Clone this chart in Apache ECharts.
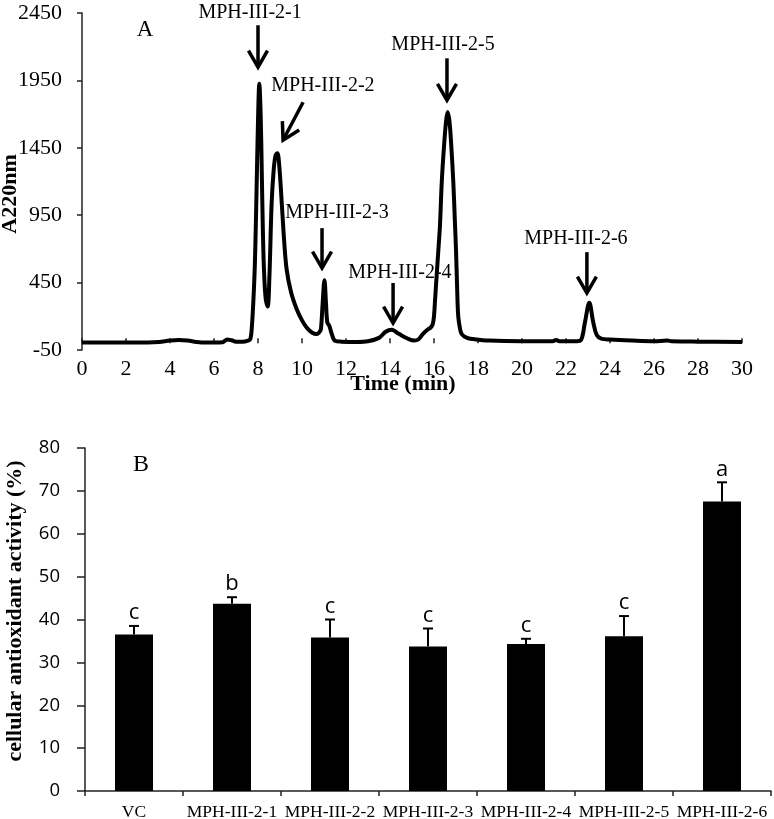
<!DOCTYPE html>
<html><head><meta charset="utf-8">
<script src="https://cdn.jsdelivr.net/npm/echarts@6/dist/echarts.min.js"></script>
<style>html,body{margin:0;padding:0;background:#fff}#c{width:774px;height:819px}</style>
</head><body><div id="c"></div>
<script>
// ---- Panel A: chromatogram ----
const timeMin = [0,1,2,3,3.5,4.0,4.4,4.8,5.2,5.6,6.0,6.4,6.6,6.8,7.0,7.3,7.55,7.65,7.72,7.8,7.86,7.93,8.0,8.06,8.12,8.17,8.22,8.27,8.35,8.44,8.52,8.62,8.72,8.8,8.88,8.96,9.08,9.18,9.3,9.5,9.76,10.0,10.21,10.45,10.67,10.8,10.86,10.94,11.02,11.09,11.15,11.24,11.35,11.5,11.8,12.5,13.0,13.5,13.8,14.08,14.4,14.8,15.1,15.3,15.5,15.7,15.85,15.94,16.0,16.05,16.12,16.2,16.27,16.35,16.45,16.55,16.62,16.7,16.78,16.88,16.95,17.0,17.05,17.1,17.18,17.26,17.5,17.8,18.5,20,21.4,21.55,21.7,22.5,22.7,22.86,23.06,23.24,23.4,23.6,24,25,26,26.6,26.8,28,30];
const absorbance = [5,5,5,6,10,20,24,20,10,5,5,8,28,22,12,12,20,30,120,350,600,1100,1650,1925,1700,1285,850,550,330,272,500,1040,1300,1395,1410,1330,1040,780,550,380,252,170,117,80,68,85,105,300,468,300,154,130,70,19,12,10,15,40,85,100,70,35,20,30,70,100,117,140,200,326,500,695,870,1187,1450,1650,1715,1650,1480,1187,900,695,420,203,110,68,40,31,20,15,15,25,15,15,30,154,300,154,60,35,28,20,15,20,15,12,10];
const yTicksA = [-50,450,950,1450,1950,2450];
const peakNames = ['MPH-III-2-1','MPH-III-2-2','MPH-III-2-3','MPH-III-2-4','MPH-III-2-5','MPH-III-2-6'];
const nameTime  = [7.64,10.95,11.59,14.45,16.41,22.45];
const nameValue = [2455,1907,965,521,2211,773];
const arrowFromTime  = [8.0,10.05,10.91,14.14,16.59,22.95];
const arrowFromValue = [2359,1788,854,447,2114,676];
const arrowToTime    = [8.0,9.14,10.91,14.14,16.59,22.95];
const arrowToValue   = [2048,1507,558,150,1803,372];

// ---- Panel B: cellular antioxidant activity ----
const categories = ['VC','MPH-III-2-1','MPH-III-2-2','MPH-III-2-3','MPH-III-2-4','MPH-III-2-5','MPH-III-2-6'];
const activity    = [36.5,43.7,35.8,33.7,34.3,36.1,67.5];
const activityErr = [2.0,1.5,4.2,4.2,1.2,4.7,4.5];
const sigLetters  = ['c','b','c','c','c','c','a'];

const serif = '"Liberation Serif","Times New Roman",serif';
const sans = '"Open Sans","Noto Sans",sans-serif';
const axisCol = '#222';

const chart = echarts.init(document.getElementById('c'), null, {renderer:'canvas'});

const lineData = timeMin.map((t,i)=>[t, absorbance[i]]);
const annData = peakNames.map((n,i)=>[nameTime[i], nameValue[i], arrowFromTime[i], arrowFromValue[i], arrowToTime[i], arrowToValue[i], i]);
const errData = categories.map((c,i)=>[i, activity[i], activityErr[i]]);

function renderAnn(params, api){
  const i = api.value(6);
  const p = api.coord([api.value(0), api.value(1)]);
  const a = api.coord([api.value(2), api.value(3)]);
  const b = api.coord([api.value(4), api.value(5)]);
  const dx = b[0]-a[0], dy = b[1]-a[1];
  const len = Math.sqrt(dx*dx+dy*dy);
  const ux = dx/len, uy = dy/len;
  const L = 19, ang = 30*Math.PI/180;
  const c1 = [b[0] - L*(ux*Math.cos(ang) - uy*Math.sin(ang)), b[1] - L*(uy*Math.cos(ang) + ux*Math.sin(ang))];
  const c2 = [b[0] - L*(ux*Math.cos(ang) + uy*Math.sin(ang)), b[1] - L*(uy*Math.cos(ang) - ux*Math.sin(ang))];
  return {type:'group', children:[
    {type:'text', style:{text:peakNames[i], x:p[0], y:p[1], align:'center', verticalAlign:'middle', fontSize:20, fontFamily:serif, fill:'#000'}},
    {type:'line', shape:{x1:a[0],y1:a[1],x2:b[0]-ux*1.5,y2:b[1]-uy*1.5}, style:{stroke:'#000', lineWidth:3.5}},
    {type:'polyline', shape:{points:[c1,b,c2]}, style:{stroke:'#000', lineWidth:3.5, fill:null, lineJoin:'miter'}}
  ]};
}

function renderErr(params, api){
  const i = api.value(0), v = api.value(1), e = api.value(2);
  const b = api.coord([i, v]);
  const t = api.coord([i, v+e]);
  return {type:'group', children:[
    {type:'line', shape:{x1:b[0],y1:b[1],x2:t[0],y2:t[1]}, style:{stroke:'#000', lineWidth:2}},
    {type:'line', shape:{x1:t[0]-5,y1:t[1],x2:t[0]+5,y2:t[1]}, style:{stroke:'#000', lineWidth:2}},
    {type:'text', style:{text:sigLetters[i], x:t[0], y:t[1]-2, align:'center', verticalAlign:'bottom', fontSize:22, fontFamily:sans, fill:'#000'}}
  ]};
}

chart.setOption({
  backgroundColor:'#fff',
  animation:false,
  grid:[
    {left:82, right:32, top:13, bottom:469, outerBoundsMode:'none'},
    {left:85, right:3, top:448, bottom:28, outerBoundsMode:'none'}
  ],
  xAxis:[
    {gridIndex:0, type:'value', min:0, max:30, interval:2,
     axisLine:{show:false}, axisTick:{show:true, inside:true, length:5, lineStyle:{color:axisCol, width:1.5}},
     splitLine:{show:false},
     axisLabel:{fontFamily:serif, fontSize:22, color:'#000', margin:8}},
    {gridIndex:1, type:'category', data:categories,
     axisLine:{show:true, lineStyle:{color:axisCol, width:1.5}},
     axisTick:{show:true, length:5, lineStyle:{color:axisCol, width:1.5}},
     axisLabel:{fontFamily:serif, fontSize:17.5, color:'#000', margin:12, interval:0}}
  ],
  yAxis:[
    {gridIndex:0, type:'value', min:-50, max:2450,
     axisLine:{show:true, lineStyle:{color:axisCol, width:1.5}},
     axisTick:{show:true, length:5, customValues:yTicksA, lineStyle:{color:axisCol, width:1.5}},
     axisLabel:{fontFamily:serif, fontSize:22, color:'#000', margin:20, customValues:yTicksA, formatter:(v)=>String(v)},
     splitLine:{show:false}},
    {gridIndex:1, type:'value', min:0, max:80, interval:10,
     axisLine:{show:true, lineStyle:{color:axisCol, width:1.5}},
     axisTick:{show:true, length:8, lineStyle:{color:axisCol, width:1.5}},
     axisLabel:{fontFamily:sans, fontSize:18.5, color:'#000', margin:25},
     splitLine:{show:false}}
  ],
  series:[
    {type:'line', xAxisIndex:0, yAxisIndex:0, data:lineData, showSymbol:false, smooth:0.35,
     lineStyle:{color:'#000', width:4, join:'round'}, z:3},
    {type:'custom', xAxisIndex:0, yAxisIndex:0, data:annData, renderItem:renderAnn, encode:{x:0,y:1}, clip:false, z:4},
    {type:'bar', xAxisIndex:1, yAxisIndex:1, data:activity, barWidth:38, itemStyle:{color:'#000'}, z:2},
    {type:'custom', xAxisIndex:1, yAxisIndex:1, data:errData, renderItem:renderErr, encode:{x:0,y:1}, clip:false, z:3}
  ],
  graphic:[
    {type:'text', x:145, y:30, style:{text:'A', fontSize:23, fontFamily:serif, fill:'#000', align:'center', verticalAlign:'middle'}},
    {type:'text', x:141, y:465, style:{text:'B', fontSize:24, fontFamily:serif, fill:'#000', align:'center', verticalAlign:'middle'}},
    {type:'text', x:10, y:194, rotation:Math.PI/2, style:{text:'A220nm', fontSize:22, fontWeight:'bold', fontFamily:serif, fill:'#000', align:'center', verticalAlign:'middle'}},
    {type:'text', x:403, y:384, style:{text:'Time (min)', fontSize:22, fontWeight:'bold', fontFamily:serif, fill:'#000', align:'center', verticalAlign:'middle'}},
    {type:'text', x:15, y:611, rotation:Math.PI/2, style:{text:'cellular antioxidant activity (%)', fontSize:22, fontWeight:'bold', fontFamily:serif, fill:'#000', align:'center', verticalAlign:'middle'}}
  ]
});
</script></body></html>
